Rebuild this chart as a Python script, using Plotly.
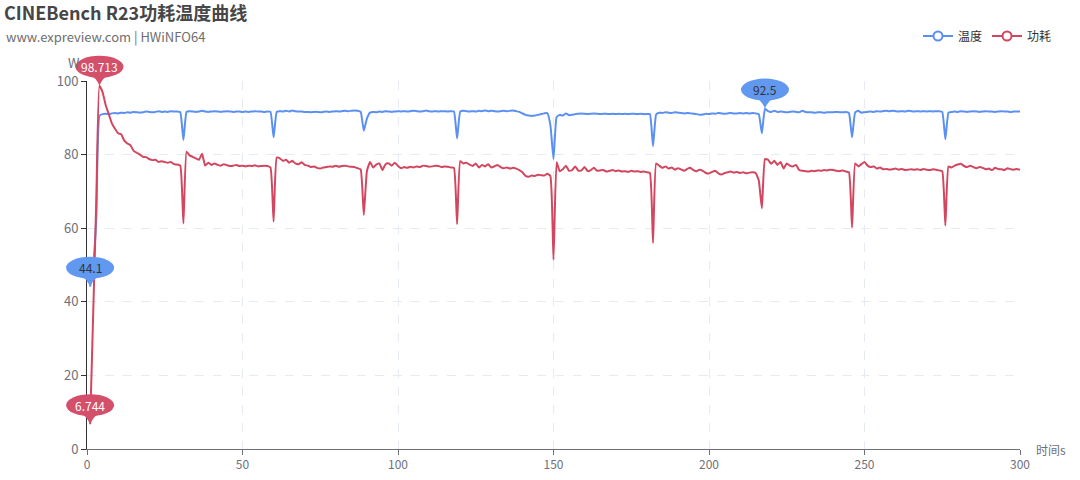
import plotly.graph_objects as go

# ---------------- data ----------------
time_s = list(range(1, 301))

temperature = [
    44.1, 50.0, 63.0, 90.6, 91.0, 91.1, 91.0, 91.2, 91.3, 91.2,
    91.4, 91.3, 91.5, 91.4, 91.6, 91.5, 91.4, 91.5, 91.7, 91.6,
    91.5, 91.6, 91.8, 91.6, 91.7, 91.6, 91.8, 91.7, 91.7, 91.5,
    84.0, 91.6, 91.8, 91.7, 91.6, 91.7, 91.9, 91.7, 91.6, 91.7,
    91.8, 91.7, 91.6, 91.7, 91.8, 91.7, 91.6, 91.7, 91.7, 91.6,
    91.7, 91.6, 91.7, 91.8, 91.7, 91.7, 91.6, 91.7, 91.6, 84.7,
    91.6, 91.8, 91.7, 91.9, 91.7, 92.0, 91.8, 91.7, 91.7, 91.6,
    91.6, 91.5, 91.6, 91.6, 91.5, 91.6, 91.7, 91.6, 91.7, 91.8,
    91.7, 91.8, 91.9, 91.8, 91.9, 92.0, 91.9, 91.6, 86.5, 89.8,
    91.4, 91.6, 91.5, 91.7, 91.6, 91.8, 91.7, 91.6, 91.7, 91.8,
    91.7, 91.8, 91.7, 91.8, 91.9, 91.8, 91.7, 91.8, 92.0, 91.8,
    91.7, 91.8, 91.7, 91.8, 91.8, 91.7, 91.8, 91.7, 84.4, 91.7,
    91.9, 91.8, 91.7, 91.8, 91.7, 91.9, 91.8, 92.0, 91.8, 91.9,
    91.8, 91.7, 91.8, 91.9, 91.8, 91.9, 92.0, 91.8, 91.6, 91.2,
    90.8, 90.6, 90.5, 90.6, 90.8, 91.0, 91.2, 91.3, 88.0, 78.8,
    90.2, 90.8, 90.6, 91.2, 90.7, 90.8, 91.0, 91.1, 91.2, 91.1,
    91.0, 91.1, 91.2, 91.1, 91.0, 91.1, 91.1, 91.0, 91.1, 91.0,
    91.1, 91.0, 91.1, 91.0, 91.1, 91.1, 91.0, 91.1, 91.0, 91.0,
    91.0, 82.3, 90.9, 91.4, 91.3, 91.5, 91.4, 91.3, 91.5, 91.4,
    91.3, 91.2, 91.3, 91.2, 91.1, 91.0, 90.8, 90.9, 91.1, 91.0,
    91.2, 91.1, 91.3, 91.2, 91.1, 91.2, 91.3, 91.2, 91.2, 91.3,
    91.2, 91.3, 91.2, 91.3, 91.2, 91.0, 85.8, 92.5, 91.8, 91.6,
    91.9, 91.6, 91.7, 91.6, 91.5, 91.6, 91.7, 91.6, 91.5, 91.9,
    91.6, 91.5, 91.5, 91.4, 91.5, 91.5, 91.4, 91.5, 91.5, 91.5,
    91.6, 91.5, 91.5, 91.6, 91.3, 84.7, 91.5, 91.9, 91.4, 91.5,
    91.6, 91.7, 91.6, 91.8, 91.7, 91.8, 91.9, 91.8, 91.9, 91.8,
    91.7, 91.8, 91.7, 91.9, 91.8, 91.7, 91.8, 91.7, 91.8, 91.7,
    91.8, 91.7, 91.8, 91.8, 91.6, 84.2, 91.4, 91.6, 91.7, 91.6,
    91.8, 91.7, 91.6, 91.7, 91.8, 91.7, 91.6, 91.7, 91.8, 91.7,
    91.7, 91.6, 91.7, 91.8, 91.7, 91.7, 91.6, 91.7, 91.7, 91.7,
]

power = [
    6.744, 37.0, 68.0, 98.713, 97.0, 93.5, 91.0, 88.5, 87.0, 85.8,
    85.5, 83.8, 83.0, 82.5, 81.0, 80.5, 80.0, 79.4, 79.3, 78.8,
    78.5, 78.6, 78.0, 78.2, 78.0, 77.8, 78.0, 77.4, 77.3, 77.0,
    61.3, 80.8, 79.8, 79.4, 79.0, 78.6, 80.2, 77.0, 77.8, 77.2,
    77.6, 77.2, 77.0, 77.4, 77.1, 76.9, 77.0, 77.2, 76.9, 77.0,
    76.8, 77.0, 76.9, 77.1, 76.8, 76.9, 77.0, 76.9, 76.5, 61.8,
    79.2, 79.0, 78.3, 78.6, 77.8, 78.3, 77.6, 77.4, 77.9, 77.2,
    77.0, 76.6, 76.8, 76.4, 76.2, 76.5, 76.6, 76.8, 76.7, 77.0,
    76.7, 76.9, 77.0, 76.8, 76.7, 76.6, 76.3, 76.0, 63.6, 75.5,
    78.0, 76.5, 77.3, 77.6, 75.8, 77.4, 77.6, 77.0, 77.8, 76.9,
    76.3, 76.6, 76.4, 76.7, 76.5, 76.8, 76.6, 77.0, 76.9, 76.7,
    76.8, 77.0, 76.9, 76.6, 76.8, 76.7, 76.5, 76.4, 61.1, 78.2,
    77.6, 77.8, 77.3, 76.9, 77.6, 76.5, 77.2, 76.8, 77.4, 76.5,
    76.8, 77.2, 76.6, 76.3, 76.5, 76.2, 76.4, 76.2, 75.8, 75.2,
    74.2, 74.0, 74.3, 74.2, 74.5, 74.4, 74.3, 74.8, 74.2, 51.4,
    77.9, 75.5, 76.0, 77.0, 75.6, 75.8, 76.8, 75.6, 75.7, 76.6,
    75.5, 75.8, 76.4, 75.6, 75.7, 75.8, 75.4, 75.6, 75.8, 75.5,
    75.7, 75.4, 75.5, 75.3, 75.6, 75.4, 75.5, 75.3, 75.4, 75.2,
    75.0, 56.0, 77.6, 77.0, 76.4, 76.8, 76.2, 76.5, 75.9, 76.3,
    76.0, 75.6, 76.1, 76.4, 75.8, 75.5, 75.9, 75.6, 75.0, 74.9,
    75.3, 75.6, 74.9, 74.6, 75.0, 75.2, 75.4, 75.1, 75.3, 75.0,
    75.2, 74.9, 75.1, 75.2, 75.0, 73.0, 65.4, 78.8, 78.6, 77.5,
    78.3, 77.2, 78.0, 76.2, 77.6, 77.0, 76.8, 77.2, 75.8, 75.6,
    75.5, 75.4, 75.6, 75.5, 75.7, 75.6, 75.8, 75.7, 75.9, 75.8,
    75.6, 75.5, 75.7, 75.4, 75.2, 60.2, 77.6, 76.8, 77.4, 78.0,
    77.0, 76.6, 76.8, 76.2, 76.5, 76.0, 76.1, 75.9, 76.0, 76.2,
    75.9, 76.1, 75.8, 75.9, 76.0, 75.9, 76.0, 75.8, 76.1, 75.9,
    75.8, 76.0, 75.9, 75.7, 75.5, 60.7, 76.8, 76.5, 77.0, 77.3,
    77.5, 76.9, 76.6, 77.0, 76.6, 76.3, 76.6, 76.4, 76.0, 76.2,
    75.8, 76.4, 76.1, 76.0, 75.8, 76.3, 76.0, 75.9, 76.1, 75.9,
]

series_names = ["温度", "功耗"]
x_ticks = [0, 50, 100, 150, 200, 250, 300]
y_ticks = [0, 20, 40, 60, 80, 100]

# ---------------- style ----------------
BLUE = "#5b90f2"
RED = "#d2475f"
PIN_BLUE = "#6198f0"
PIN_RED = "#d4506a"
X_RANGE = [0, 300]
Y_RANGE = [0, 100]
FONT = "Noto Sans CJK SC, Noto Sans, sans-serif"

W, H = 1080, 480
ML, MR, MT, MB = 87, 60, 81, 31
PW, PH = W - ML - MR, H - MT - MB


def px_to_paper(px, py):
    return (px - ML) / PW, (H - MB - py) / PH


fig = go.Figure()

for name, vals, col in [(series_names[0], temperature, BLUE), (series_names[1], power, RED)]:
    fig.add_trace(go.Scatter(
        x=time_s, y=vals, mode="lines", name=name, showlegend=False,
        line=dict(color=col, width=2, shape="spline", smoothing=0.4),
        cliponaxis=False,
    ))
    fig.add_trace(go.Scatter(
        x=[None], y=[None], mode="lines+markers", name=name, showlegend=True,
        line=dict(color=col, width=2),
        marker=dict(symbol="circle", size=9, color="white", line=dict(color=col, width=2)),
    ))


def to_paper(xv, yv):
    fx = (xv - X_RANGE[0]) / (X_RANGE[1] - X_RANGE[0])
    fy = (yv - Y_RANGE[0]) / (Y_RANGE[1] - Y_RANGE[0])
    return fx, fy


shapes = []
annotations = []

# axis name W (drawn first so pins can sit over it)
wx, wy = px_to_paper(82, 63)
annotations.append(dict(x=wx, y=wy, xref="paper", yref="paper", text="W", showarrow=False,
                        xanchor="right", yanchor="middle",
                        font=dict(size=13, color="#6e7079", family=FONT)))


def add_pin(xv, yv, label, fill, txtcol):
    fx, fy = to_paper(xv, yv)
    shapes.append(dict(type="circle", xref="paper", yref="paper",
                       xsizemode="pixel", ysizemode="pixel",
                       xanchor=fx, yanchor=fy,
                       x0=-24, x1=24, y0=8, y1=30,
                       fillcolor=fill, line=dict(width=0), layer="above"))
    shapes.append(dict(type="path", xref="paper", yref="paper",
                       xsizemode="pixel", ysizemode="pixel",
                       xanchor=fx, yanchor=fy,
                       path="M -12,13 Q -3,8 0,0 Q 3,8 12,13 Z",
                       fillcolor=fill, line=dict(width=0), layer="above"))
    annotations.append(dict(x=fx, y=fy, xref="paper", yref="paper", text=label,
                            showarrow=False, yshift=19, xanchor="center", yanchor="middle",
                            font=dict(size=12, color=txtcol, family=FONT)))


def fmt(v):
    return "%g" % v


for vals, fill, txt in [(temperature, PIN_BLUE, "#333333"), (power, PIN_RED, "#ffffff")]:
    imax = max(range(len(vals)), key=lambda i: vals[i])
    imin = min(range(len(vals)), key=lambda i: vals[i])
    add_pin(time_s[imax], vals[imax], fmt(vals[imax]), fill, txt)
    add_pin(time_s[imin], vals[imin], fmt(vals[imin]), fill, txt)

annotations.append(dict(x=1, y=0, xref="paper", yref="paper", text="时间s", showarrow=False,
                        xanchor="left", yanchor="middle", xshift=14,
                        font=dict(size=12, color="#6e7079", family=FONT)))
# subtitle
sx, sy = px_to_paper(4, 36)
annotations.append(dict(x=sx, y=sy, xref="paper", yref="paper",
                        text="www.expreview.com | HWiNFO64", showarrow=False,
                        xanchor="left", yanchor="middle",
                        font=dict(size=13, color="#6e6e6e", family=FONT)))

lx, ly = px_to_paper(1057, 36)

fig.update_layout(
    template="none",
    width=W, height=H,
    margin=dict(l=ML, r=MR, t=MT, b=MB, autoexpand=False),
    paper_bgcolor="white", plot_bgcolor="white",
    font=dict(family=FONT, color="#333333"),
    title=dict(text="<b>CINEBench R23功耗温度曲线</b>", x=4 / W, xanchor="left",
               xref="container", yref="container", y=1 - 14 / H, yanchor="middle",
               font=dict(size=18, color="#464646", family=FONT)),
    legend=dict(orientation="h", xanchor="right", x=lx, yanchor="middle", y=ly,
                font=dict(size=12, color="#333333", family=FONT),
                itemwidth=30, bgcolor="rgba(0,0,0,0)", traceorder="normal"),
    xaxis=dict(range=X_RANGE, tickvals=x_ticks, showgrid=True, gridcolor="#e6eaf2",
               griddash="dash", gridwidth=1, zeroline=False, showline=True,
               linecolor="#6e7079", linewidth=1, ticks="outside", ticklen=5,
               tickcolor="#6e7079", tickfont=dict(size=12, color="#6e7079", family=FONT),
               automargin=False),
    yaxis=dict(range=Y_RANGE, tickvals=y_ticks, showgrid=True, gridcolor="#e6eaf2",
               griddash="dash", gridwidth=1, zeroline=False, showline=True,
               linecolor="#333333", linewidth=1, ticks="outside", ticklen=5,
               tickcolor="#333333", tickfont=dict(size=13, color="#6e7079", family=FONT),
               automargin=False),
    shapes=shapes,
    annotations=annotations,
)

fig.write_html("out.html", config={"displayModeBar": False},
               post_script="document.body.style.margin='0px';document.body.style.overflow='hidden';")
